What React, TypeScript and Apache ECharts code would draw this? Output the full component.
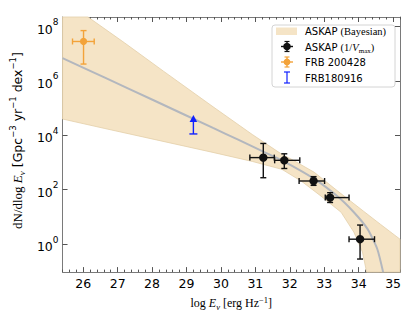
import React, { useEffect, useRef } from 'react';
import * as echarts from 'echarts';

// ---- axis ticks ----
const xTicks = [26, 27, 28, 29, 30, 31, 32, 33, 34, 35];
const yTicks = [0, 2, 4, 6, 8];

// ---- ASKAP 1/Vmax points (log10 E, log10 dN/dlogE) ----
const askapLogE = [31.23, 31.84, 32.69, 33.17, 34.04];
const askapLogELo = [30.84, 31.56, 32.27, 33.03, 33.72];
const askapLogEHi = [31.55, 32.29, 33.01, 33.72, 34.46];
const askapLogN = [3.18, 3.08, 2.32, 1.71, 0.18];
const askapLogNLo = [2.44, 2.78, 2.16, 1.53, -0.55];
const askapLogNHi = [3.70, 3.32, 2.48, 1.89, 0.70];

// ---- FRB 200428 ----
const frb200428LogE = [26.01];
const frb200428LogELo = [25.69];
const frb200428LogEHi = [26.32];
const frb200428LogN = [7.45];
const frb200428LogNLo = [6.62];
const frb200428LogNHi = [7.85];

// ---- FRB180916 lower limit ----
const frb180916LogE = [29.2];
const frb180916LogN = [4.05];

// ---- model curve (grey) ----
const modelLogE = [25.4, 26.63, 28.06, 29.77, 30.5, 31.23, 31.77, 32.71, 33.4, 33.86, 34.26, 34.54, 34.71];
const modelLogN = [6.84, 6.12, 5.28, 4.27, 3.84, 3.4, 3.08, 2.4, 1.74, 1.17, 0.55, -0.18, -1.03];

// ---- Bayesian band ----
const bandUpperLogE = [25.4, 26.14, 27.2, 28.34, 29.77, 30.91, 31.77, 32.06, 32.71, 33.4, 34.14, 34.63, 35.2];
const bandUpperLogN = [8.35, 8.35, 7.4, 6.35, 5.05, 4.03, 3.3, 3.11, 2.64, 1.94, 1.21, 0.73, 0.18];
const bandLowerLogE = [25.4, 26.63, 28.06, 29.77, 30.91, 31.77, 32.34, 32.91, 33.49, 33.86, 34.11, 34.23, 35.2];
const bandLowerLogN = [4.6, 4.25, 3.85, 3.37, 3.04, 2.75, 2.31, 1.76, 1.17, 0.44, -0.29, -1.03, -1.03];

const X_MIN = 25.4, X_MAX = 35.2, Y_MIN = -1.03, Y_MAX = 8.35;

const xMinorTicks: number[] = [];
for (let k = 127; k <= 176; k++) {
  if (k % 5 !== 0) xMinorTicks.push(k / 5);
}

const BAND = '#f5e4c6';
const BAND_EDGE = '#e3cfa9';
const FRAME = '#7a7a7a';
const SANS = 'DejaVu Sans';
const SERIF = 'Liberation Serif';

function errRender(color: string, r: number, cap: number, lw: number) {
  return (params: any, api: any) => {
    const x = api.value(0), y = api.value(1);
    const xl = api.value(2), xh = api.value(3), yl = api.value(4), yh = api.value(5);
    const c = api.coord([x, y]);
    const a = api.coord([xl, y]);
    const b = api.coord([xh, y]);
    const d = api.coord([x, yl]);
    const e = api.coord([x, yh]);
    const st = { stroke: color, lineWidth: lw };
    return {
      type: 'group',
      children: [
        { type: 'line', shape: { x1: a[0], y1: c[1], x2: b[0], y2: c[1] }, style: st },
        { type: 'line', shape: { x1: c[0], y1: d[1], x2: c[0], y2: e[1] }, style: st },
        { type: 'line', shape: { x1: a[0], y1: c[1] - cap, x2: a[0], y2: c[1] + cap }, style: st },
        { type: 'line', shape: { x1: b[0], y1: c[1] - cap, x2: b[0], y2: c[1] + cap }, style: st },
        { type: 'line', shape: { x1: c[0] - cap, y1: d[1], x2: c[0] + cap, y2: d[1] }, style: st },
        { type: 'line', shape: { x1: c[0] - cap, y1: e[1], x2: c[0] + cap, y2: e[1] }, style: st },
        { type: 'circle', shape: { cx: c[0], cy: c[1], r }, style: { fill: color } },
      ],
    };
  };
}

export default function App() {
  const ref = useRef<HTMLDivElement>(null);
  useEffect(() => {
    if (!ref.current) return;
    const chart = echarts.init(ref.current, undefined, { renderer: 'svg' });

    const askapData = askapLogE.map((v, i) => [v, askapLogN[i], askapLogELo[i], askapLogEHi[i], askapLogNLo[i], askapLogNHi[i]]);
    const frbData = frb200428LogE.map((v, i) => [v, frb200428LogN[i], frb200428LogELo[i], frb200428LogEHi[i], frb200428LogNLo[i], frb200428LogNHi[i]]);
    const limitData = frb180916LogE.map((v, i) => [v, frb180916LogN[i]]);
    const modelData = modelLogE.map((v, i) => [v, modelLogN[i]]);
    const upperPts = bandUpperLogE.map((v, i) => [v, bandUpperLogN[i]]);
    const lowerPts = bandLowerLogE.map((v, i) => [v, bandLowerLogN[i]]);
    const polyPts = upperPts.concat(lowerPts.slice().reverse());

    const baseX = (pos: string, ticks: number[], len: number, showLine: boolean, showLabel: boolean) => ({
      type: 'value',
      min: X_MIN,
      max: X_MAX,
      position: pos,
      splitLine: { show: false },
      axisLine: { show: showLine, onZero: false, lineStyle: { color: FRAME, width: 1 } },
      axisTick: { show: true, inside: true, length: len, customValues: ticks, lineStyle: { color: '#555', width: 1 } },
      axisLabel: showLabel
        ? { show: true, customValues: xTicks, color: '#000', fontSize: 12.5, fontFamily: SANS, margin: 5 }
        : { show: false },
    });

    const supRich = {
      b: { fontFamily: SANS, fontSize: 12.5, color: '#000', lineHeight: 18, verticalAlign: 'bottom' },
      s: { fontFamily: SANS, fontSize: 9, color: '#000', lineHeight: 18, verticalAlign: 'top', padding: [0, 0, 0, 0] },
    };

    const xName = {
      name: '{r|log }{i|E}{sub|ν}{r| [erg Hz}{sup|−1}{r|]}',
      nameLocation: 'middle',
      nameGap: 15,
      nameTextStyle: {
        rich: {
          r: { fontFamily: SERIF, fontSize: 12, color: '#000', lineHeight: 16, verticalAlign: 'middle' },
          i: { fontFamily: SERIF, fontStyle: 'italic', fontSize: 12, color: '#000', lineHeight: 16, verticalAlign: 'middle' },
          sub: { fontFamily: SERIF, fontStyle: 'italic', fontSize: 8.5, color: '#000', lineHeight: 16, verticalAlign: 'bottom' },
          sup: { fontFamily: SERIF, fontSize: 8.5, color: '#000', lineHeight: 16, verticalAlign: 'top' },
        },
      },
    };

    const option: any = {
      animation: false,
      backgroundColor: '#fff',
      grid: { left: 57, right: 15, top: 17, bottom: 43, containLabel: false },
      xAxis: [
        { ...baseX('bottom', xTicks, 5, true, true), ...xName },
        baseX('bottom', xMinorTicks, 2.5, false, false),
        baseX('top', xTicks, 5, true, false),
        baseX('top', xMinorTicks, 2.5, false, false),
      ],
      yAxis: [
        {
          type: 'value',
          min: Y_MIN,
          max: Y_MAX,
          position: 'left',
          splitLine: { show: false },
          axisLine: { show: true, onZero: false, lineStyle: { color: FRAME, width: 1 } },
          axisTick: { show: true, inside: true, length: 5, customValues: yTicks, lineStyle: { color: '#555' } },
          axisLabel: {
            show: true,
            customValues: yTicks,
            margin: 4,
            formatter: (v: number) => `{b|10}{s|${Math.round(v)}}`,
            rich: supRich,
          },
          name: '{m|dN/dlog }{i|E}{sub|ν}{t| [Gpc}{sup|−3}{t| yr}{sup|−1}{t| dex}{sup|−1}{t|]}',
          nameLocation: 'middle',
          nameGap: 29,
          nameRotate: 90,
          nameTextStyle: {
            padding: [0, 0, 0, 8],
            rich: {
              m: { fontFamily: SERIF, fontSize: 13, color: '#000', lineHeight: 18, verticalAlign: 'middle' },
              i: { fontFamily: SERIF, fontStyle: 'italic', fontSize: 13, color: '#000', lineHeight: 18, verticalAlign: 'middle' },
              sub: { fontFamily: SERIF, fontStyle: 'italic', fontSize: 9, color: '#000', lineHeight: 18, verticalAlign: 'bottom' },
              t: { fontFamily: SANS, fontSize: 12.5, color: '#000', lineHeight: 18, verticalAlign: 'middle' },
              sup: { fontFamily: SANS, fontSize: 8.5, color: '#000', lineHeight: 18, verticalAlign: 'top' },
            },
          },
        },
        {
          type: 'value',
          min: Y_MIN,
          max: Y_MAX,
          position: 'right',
          splitLine: { show: false },
          axisLine: { show: true, onZero: false, lineStyle: { color: FRAME, width: 1 } },
          axisTick: { show: true, inside: true, length: 5, customValues: yTicks, lineStyle: { color: '#555' } },
          axisLabel: { show: false },
        },
      ],
      series: [
        {
          type: 'custom',
          name: 'ASKAP (Bayesian)',
          xAxisIndex: 0,
          yAxisIndex: 0,
          z: 1,
          data: polyPts,
          renderItem: (params: any, api: any) => {
            if (params.dataIndex !== 0) return null;
            const pts = polyPts.map((p) => api.coord(p));
            return {
              type: 'polygon',
              shape: { points: pts },
              style: { fill: BAND, stroke: BAND_EDGE, lineWidth: 0.8 },
            };
          },
        },
        {
          type: 'line',
          name: 'model',
          xAxisIndex: 0,
          yAxisIndex: 0,
          z: 2,
          data: modelData,
          showSymbol: false,
          smooth: 0.2,
          lineStyle: { color: '#b3b7be', width: 2 },
          clip: true,
        },
        {
          type: 'custom',
          name: 'ASKAP (1/Vmax)',
          xAxisIndex: 0,
          yAxisIndex: 0,
          z: 4,
          data: askapData,
          renderItem: errRender('#111', 4.2, 3, 1.4),
        },
        {
          type: 'custom',
          name: 'FRB 200428',
          xAxisIndex: 0,
          yAxisIndex: 0,
          z: 4,
          data: frbData,
          renderItem: errRender('#f3a33a', 3.6, 3, 1.4),
        },
        {
          type: 'custom',
          name: 'FRB180916',
          xAxisIndex: 0,
          yAxisIndex: 0,
          z: 4,
          data: limitData,
          renderItem: (params: any, api: any) => {
            const c = api.coord([api.value(0), api.value(1)]);
            const col = '#1020ff';
            const top = c[1] - 19;
            return {
              type: 'group',
              children: [
                { type: 'line', shape: { x1: c[0], y1: c[1], x2: c[0], y2: top + 5 }, style: { stroke: col, lineWidth: 1.4 } },
                { type: 'line', shape: { x1: c[0] - 4, y1: c[1], x2: c[0] + 4, y2: c[1] }, style: { stroke: col, lineWidth: 1.4 } },
                { type: 'polygon', shape: { points: [[c[0], top], [c[0] - 3.8, top + 7], [c[0] + 3.8, top + 7]] }, style: { fill: col } },
              ],
            };
          },
        },
      ],
      graphic: [
        { type: 'rect', z: 10, shape: { x: 272, y: 25, width: 123, height: 62, r: 3 }, style: { fill: 'rgba(255,255,255,0.85)', stroke: '#d4d4d4', lineWidth: 1 } },
        { type: 'rect', z: 11, shape: { x: 276, y: 27.5, width: 21, height: 7.5 }, style: { fill: BAND } },
        // black marker
        { type: 'line', z: 11, shape: { x1: 281, y1: 46.5, x2: 293, y2: 46.5 }, style: { stroke: '#111', lineWidth: 1.4 } },
        { type: 'line', z: 11, shape: { x1: 287, y1: 41.5, x2: 287, y2: 51.5 }, style: { stroke: '#111', lineWidth: 1.4 } },
        { type: 'line', z: 11, shape: { x1: 284.5, y1: 41.5, x2: 289.5, y2: 41.5 }, style: { stroke: '#111', lineWidth: 1.2 } },
        { type: 'line', z: 11, shape: { x1: 284.5, y1: 51.5, x2: 289.5, y2: 51.5 }, style: { stroke: '#111', lineWidth: 1.2 } },
        { type: 'circle', z: 11, shape: { cx: 287, cy: 46.5, r: 3.8 }, style: { fill: '#111' } },
        // orange marker
        { type: 'line', z: 11, shape: { x1: 281, y1: 62, x2: 293, y2: 62 }, style: { stroke: '#f3a33a', lineWidth: 1.4 } },
        { type: 'line', z: 11, shape: { x1: 287, y1: 57, x2: 287, y2: 67 }, style: { stroke: '#f3a33a', lineWidth: 1.4 } },
        { type: 'line', z: 11, shape: { x1: 284.5, y1: 57, x2: 289.5, y2: 57 }, style: { stroke: '#f3a33a', lineWidth: 1.2 } },
        { type: 'line', z: 11, shape: { x1: 284.5, y1: 67, x2: 289.5, y2: 67 }, style: { stroke: '#f3a33a', lineWidth: 1.2 } },
        { type: 'circle', z: 11, shape: { cx: 287, cy: 62, r: 3.4 }, style: { fill: '#f3a33a' } },
        // blue marker
        { type: 'line', z: 11, shape: { x1: 287, y1: 72, x2: 287, y2: 83 }, style: { stroke: '#1020ff', lineWidth: 1.2 } },
        { type: 'line', z: 11, shape: { x1: 284, y1: 72, x2: 290, y2: 72 }, style: { stroke: '#1020ff', lineWidth: 1.2 } },
        { type: 'line', z: 11, shape: { x1: 284, y1: 83, x2: 290, y2: 83 }, style: { stroke: '#1020ff', lineWidth: 1.2 } },
        // texts
        {
          type: 'text', z: 11, x: 305, y: 31.5,
          style: {
            text: '{a|ASKAP }{b|(Bayesian)}', verticalAlign: 'middle',
            rich: {
              a: { fontFamily: SANS, fontSize: 10, fill: '#000' },
              b: { fontFamily: SERIF, fontSize: 10.5, fill: '#000' },
            },
          },
        },
        {
          type: 'text', z: 11, x: 305, y: 47,
          style: {
            text: '{a|ASKAP }{b|(1/}{i|V}{s|max}{b|)}', verticalAlign: 'middle',
            rich: {
              a: { fontFamily: SANS, fontSize: 10, fill: '#000', lineHeight: 14, verticalAlign: 'middle' },
              b: { fontFamily: SERIF, fontSize: 10.5, fill: '#000', lineHeight: 14, verticalAlign: 'middle' },
              i: { fontFamily: SERIF, fontStyle: 'italic', fontSize: 10.5, fill: '#000', lineHeight: 14, verticalAlign: 'middle' },
              s: { fontFamily: SERIF, fontSize: 7, fill: '#000', lineHeight: 14, verticalAlign: 'bottom' },
            },
          },
        },
        { type: 'text', z: 11, x: 305, y: 62.5, style: { text: 'FRB 200428', fontFamily: SANS, fontSize: 10, fill: '#000', verticalAlign: 'middle' } },
        { type: 'text', z: 11, x: 305, y: 78, style: { text: 'FRB180916', fontFamily: SANS, fontSize: 10, fill: '#000', verticalAlign: 'middle' } },
      ],
    };

    chart.setOption(option);
    return () => chart.dispose();
  }, []);

  return <div ref={ref} style={{ position: 'fixed', left: 0, top: 0, width: 415, height: 316, background: '#fff' }} />;
}
